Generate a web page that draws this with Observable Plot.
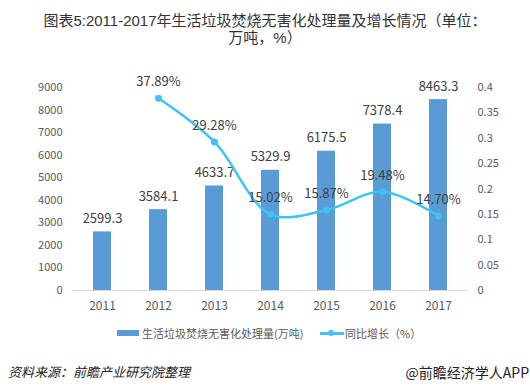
<!DOCTYPE html>
<html><head><meta charset="utf-8">
<script src="https://cdn.jsdelivr.net/npm/d3@7"></script>
<script src="https://cdn.jsdelivr.net/npm/@observablehq/plot@0.6"></script>
<style>
body{margin:0;background:#fff;font-family:"Noto Sans CJK SC","Noto Sans",sans-serif;}
#wrap{position:relative;width:530px;height:389px;overflow:hidden;}
.title{position:absolute;left:0;width:530px;text-align:center;font-size:15px;line-height:17px;color:#333;font-family:"Liberation Sans","Noto Sans CJK SC",sans-serif;white-space:nowrap;}
#chart{position:absolute;left:0;top:0;}
#legend{position:absolute;left:0;top:325px;width:530px;height:18px;font-size:11px;color:#595959;}
.foot{position:absolute;top:362px;color:#222;}
</style></head>
<body><div id="wrap">
<div id="chart"></div>
<div class="title" style="top:12px;">图表5:2011-2017年生活垃圾焚烧无害化处理量及增长情况（单位：</div>
<div class="title" style="top:29px;">万吨，%）</div>
<div id="legend">
<span style="position:absolute;left:117px;top:5px;width:22px;height:6px;background:#5b9bd5"></span>
<span style="position:absolute;left:142px;top:0px;">生活垃圾焚烧无害化处理量(万吨)</span>
<span style="position:absolute;left:320px;top:7px;width:24px;height:2.5px;background:#3fc3f5"></span>
<span style="position:absolute;left:328px;top:5px;width:6px;height:6px;border-radius:3px;background:#3fc3f5"></span>
<span style="position:absolute;left:345px;top:0px;">同比增长（%）</span>
</div>
<div class="foot" style="left:8px;font-size:13px;font-style:italic;">资料来源：前瞻产业研究院整理</div>
<div class="foot" style="right:1px;font-size:14px;">@前瞻经济学人APP</div>
</div>
<script>
const years = ["2011","2012","2013","2014","2015","2016","2017"];
const volume = [2599.3, 3584.1, 4633.7, 5329.9, 6175.5, 7378.4, 8463.3];
const growthYears = ["2012","2013","2014","2015","2016","2017"];
const growth = [0.3789, 0.2928, 0.1502, 0.1587, 0.1948, 0.1470];
const leftTicks = [0,1000,2000,3000,4000,5000,6000,7000,8000,9000];
const rightTicks = [0,0.05,0.1,0.15,0.2,0.25,0.3,0.35,0.4];

const ratio = 9000 / 0.4;
const bars = years.map((y,i)=>({year:y, v:volume[i]}));
const pts = growthYears.map((y,i)=>({year:y, g:growth[i], v:growth[i]*ratio}));

const chart = Plot.plot({
  width: 530, height: 320,
  marginTop: 87, marginBottom: 30, marginLeft: 72, marginRight: 62,
  style: {fontFamily: '"Noto Sans CJK SC","Noto Sans",sans-serif', background: "transparent"},
  x: {domain: years, paddingInner: 0.68, paddingOuter: 0.34, axis: null},
  y: {domain: [0, 9000], axis: null},
  marks: [
    Plot.barY(bars, {x: "year", y: "v", fill: "#5b9bd5"}),
    Plot.ruleY([0], {stroke: "#d9d9d9", strokeWidth: 1}),
    Plot.axisX(years, {tickSize: 0, tickPadding: 11, fontSize: 12, fill: "#595959", label: null}),
    Plot.axisY(leftTicks, {anchor: "left", tickSize: 0, tickPadding: 10, fontSize: 11, fill: "#595959", label: null, tickFormat: d => String(d)}),
    Plot.axisY(rightTicks.map(t => t * ratio), {anchor: "right", tickSize: 0, tickPadding: 9, fontSize: 11, fill: "#595959", label: null, tickFormat: d => String(+(d / ratio).toFixed(2))}),
    Plot.text(bars, {x: "year", y: "v", text: d => d.v.toFixed(1), dy: -13, fontSize: 13, fill: "#404040"}),
    Plot.line(pts, {x: "year", y: "v", stroke: "#3fc3f5", strokeWidth: 2.5, curve: "catmull-rom"}),
    Plot.dot(pts, {x: "year", y: "v", r: 3.5, fill: "#3fc3f5"}),
    Plot.text(pts, {x: "year", y: "v", text: d => (d.g * 100).toFixed(2) + "%", dy: -16, fontSize: 13, fill: "#404040"})
  ]
});
document.getElementById("chart").appendChild(chart);
</script>
</body></html>
